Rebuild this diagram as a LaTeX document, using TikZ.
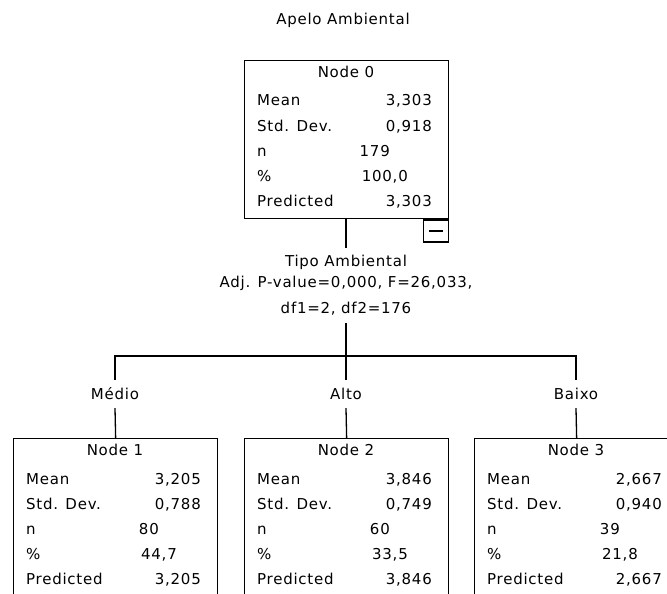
\documentclass[tikz,border=0pt]{standalone}
\usepackage{fontspec}
\setmainfont[LetterSpace=5]{DejaVu Sans}
\usepackage{tikz}
\usetikzlibrary{positioning}

% one box of the tree: name, left x, top y, title, mean, sd, n, %, predicted
\newcommand{\treebox}[9]{%
  \node[box, anchor=north west] (#1) at (#2,#3) {};
  \node[anchor=base] (#1-head) at (#2+102,#3+17.5) {#4};
  \node[lab] (#1-l1) at (#2+13,#3+46) {Mean};
  \node[lab] (#1-l2) at (#2+13,#3+71) {Std. Dev.};
  \node[lab] (#1-l3) at (#2+13,#3+96) {n};
  \node[lab] (#1-l4) at (#2+13,#3+121) {\%};
  \node[lab] (#1-l5) at (#2+13,#3+146) {Predicted};
  \node[val] (#1-v1) at (#2+188,#3+46) {#5};
  \node[val] (#1-v2) at (#2+188,#3+71) {#6};
  \node[val] (#1-v3) at (#2+146,#3+96) {#7};
  \node[val] (#1-v4) at (#2+164,#3+121) {#8};
  \node[val] (#1-v5) at (#2+188,#3+146) {#9};
}

\begin{document}
\begin{tikzpicture}[
    x=1pt, y=-1pt,
    font=\fontsize{15}{21}\selectfont,
    box/.style={draw, line width=1.3pt, minimum width=204pt, minimum height=158pt, inner sep=0pt},
    lab/.style={anchor=base west, inner sep=0pt},
    val/.style={anchor=base east, inner sep=0pt},
    branch/.style={minimum height=28pt, inner sep=0pt},
    conn/.style={line width=1.3pt}
  ]
    \clip (0,0) rectangle (667,594);

    \node[anchor=base] (title) at (343,25) {Apelo Ambiental};

    \treebox{n0}{244}{60}{Node 0}{3,303}{0,918}{179}{100,0}{3,303}
    \treebox{n1}{13}{438}{Node 1}{3,205}{0,788}{80}{44,7}{3,205}
    \treebox{n2}{244}{438}{Node 2}{3,846}{0,749}{60}{33,5}{3,846}
    \treebox{n3}{474}{438}{Node 3}{2,667}{0,940}{39}{21,8}{2,667}

    \node[draw, line width=1.3pt, minimum width=25pt, minimum height=22pt,
          inner sep=0pt, anchor=north east] (tog) at (n0.south east) {};
    \draw[line width=1.3pt] ([xshift=6pt]tog.west) -- ([xshift=-6pt]tog.east);

    \node[align=center, minimum height=75pt, inner sep=0pt] (split) at (346,285.5)
        {Tipo Ambiental\\Adj. P-value=0,000, F=26,033,\\[5pt]df1=2, df2=176};
    \coordinate (fork) at (346,356);

    \node[branch] (b1) at (115,394) {Médio};
    \node[branch] (b2) at (346,394) {Alto};
    \node[branch] (b3) at (576,394) {Baixo};

    \draw[conn] (n0.south -| split.north) -- (split.north);
    \draw[conn] (split.south) -- (fork);
    \draw[conn] (fork) -| (b1.north);
    \draw[conn] (fork) -| (b3.north);
    \draw[conn] (fork) -- (b2.north);
    \draw[conn] (b1.south) -- (n1.north);
    \draw[conn] (b2.south) -- (n2.north);
    \draw[conn] (b3.south) -- (n3.north);
\end{tikzpicture}
\end{document}
